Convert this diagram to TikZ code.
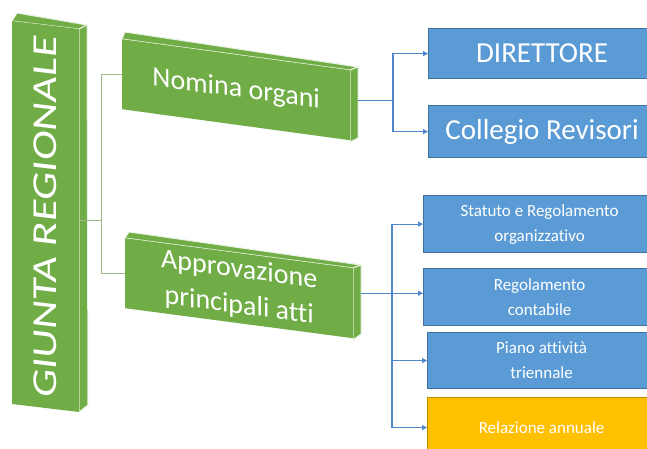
\documentclass[tikz,border=0pt]{standalone}
\usepackage{fontspec}
\setmainfont{Carlito}[Ligatures={NoCommon}]
\usetikzlibrary{arrows.meta,calc}
\definecolor{gfill}{HTML}{70AD47}
\definecolor{gline}{HTML}{9DB88A}
\definecolor{bfill}{HTML}{5B9BD5}
\definecolor{bdraw}{HTML}{41719C}
\definecolor{yfill}{HTML}{FFC000}
\definecolor{ydraw}{HTML}{BC8C00}
\definecolor{arrowc}{HTML}{4F86CC}
\begin{document}
\begin{tikzpicture}[x=1pt,y=-1pt,
  gface/.style={fill=gfill, draw=none, inner sep=0pt, text=white, transform shape},
  gedge/.style={draw=white!85!gfill, line width=1pt, fill=gfill, line join=round},
  bbox/.style={fill=bfill, draw=bdraw, line width=1.2pt, text=white, inner sep=0pt, align=center, anchor=north west},
  ybox/.style={bbox, fill=yfill, draw=ydraw},
  conn/.style={draw=arrowc, line width=1.1pt},
  arr/.style={conn, -{Triangle[length=5pt,width=5pt]}},
  gconn/.style={draw=gline, line width=0.8pt}]
\useasboundingbox (0,0) rectangle (647,449);
\clip (0,0) rectangle (647,449);
\fill[white] (0,0) rectangle (647,449);

% GIUNTA REGIONALE
\draw[gedge] (12,21) -- (17,13) -- (87,25) -- (79,29) -- cycle;
\draw[gedge] (79,29) -- (87,25) -- (88,405) -- (79,412) -- cycle;
\begin{scope}[shift={(12,21)}, yslant=-0.119]
  \node[gface, rotate=90, minimum width=383pt, minimum height=67pt,
        font=\fontsize{35}{40}\selectfont] (giunta) at (33.5,191.5)
        {\scalebox{1.28}[1]{GIUNTA REGIONALE}};
\end{scope}

% Nomina organi
\draw[gedge] (122,39) -- (125,32) -- (358,67) -- (350,70) -- cycle;
\draw[gedge] (350,70) -- (358,67) -- (358,138) -- (350,142) -- cycle;
\begin{scope}[shift={(122,39)}, yslant=-0.136]
  \node[gface, anchor=north west, minimum width=228pt, minimum height=70pt,
        font=\fontsize{28}{32}\selectfont] (nom) at (0,0) {Nomina organi};
\end{scope}

% Approvazione principali atti
\draw[gedge] (125,238) -- (129,232) -- (361,265) -- (353,268) -- cycle;
\draw[gedge] (353,268) -- (361,265) -- (361,334) -- (353,340) -- cycle;
\begin{scope}[shift={(125,238)}, yslant=-0.1316]
  \node[gface, anchor=north west, minimum width=228pt, minimum height=70pt,
        align=center, font=\fontsize{28}{36}\selectfont] (appr) at (0,0)
        {Approvazione\\principali atti};
\end{scope}

% blue / yellow boxes
\node[bbox, minimum width=227pt, minimum height=50pt, font=\fontsize{29}{34}\selectfont] (dir) at (428,28) {DIRETTORE};
\node[bbox, minimum width=227pt, minimum height=52pt, font=\fontsize{29}{34}\selectfont] (col) at (428,105) {Collegio Revisori};
\node[bbox, minimum width=232pt, minimum height=57pt, font=\fontsize{17}{25}\selectfont] (stat) at (423,195) {Statuto e Regolamento\\organizzativo};
\node[bbox, minimum width=232pt, minimum height=57pt, font=\fontsize{17}{25}\selectfont] (reg) at (423,268) {Regolamento\\contabile};
\node[bbox, minimum width=228pt, minimum height=56pt, font=\fontsize{17}{25}\selectfont] (piano) at (427,332) {Piano attività\\triennale};
\node[ybox, minimum width=228pt, minimum height=60pt, font=\fontsize{17}{25}\selectfont] (rel) at (427,397) {Relazione annuale};

% green connectors
\coordinate (gbus) at (101,0);
\draw[gconn] (giunta.south) -- (giunta.south -| gbus);
\draw[gconn] (nom.west) -- (nom.west -| gbus) -- (appr.west -| gbus) -- (appr.west);

% upper blue connectors
\coordinate (nout) at ($(nom.east)+(8,-5)$);
\coordinate (ubus) at (393,0);
\draw[conn] (nout) -- (nout -| ubus);
\draw[arr] (nout -| ubus) |- (dir.west);
\draw[arr] (nout -| ubus) |- (col.west);

% lower blue connectors
\coordinate (aout) at ($(appr.east)+(8,-10)$);
\coordinate (lbus) at (392,0);
\draw[arr] (aout) -- (aout -| reg.west);
\draw[conn] (stat.west -| lbus) -- (rel.west -| lbus);
\draw[arr] (stat.west -| lbus) -- (stat.west);
\draw[arr] (piano.west -| lbus) -- (piano.west);
\draw[arr] (rel.west -| lbus) -- (rel.west);
\end{tikzpicture}
\end{document}
